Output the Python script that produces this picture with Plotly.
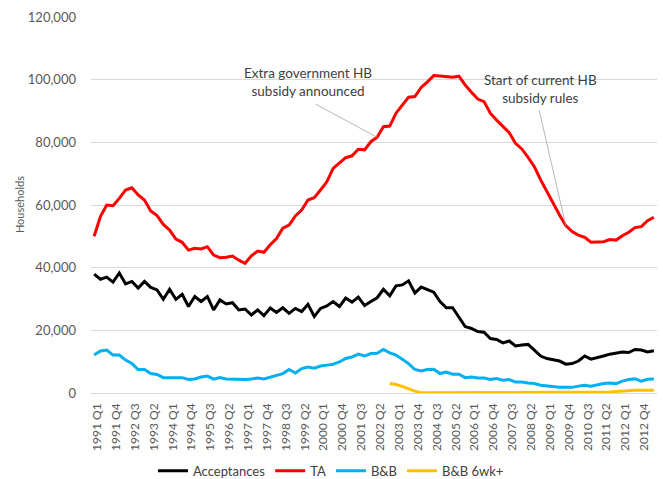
import plotly.graph_objects as go

years = list(range(1991, 2014))
quarters = [f"{y} Q{q}" for y in years for q in range(1, 5)][:90]  # 1991 Q1 .. 2013 Q2

acceptances = [37950, 36300, 37000, 35400, 38300, 34800, 35600, 33500, 35600, 33700,
               32900, 29900, 33100, 29900, 31500, 27600, 30800, 29200, 30800, 26500,
               29700, 28400, 28800, 26500, 26800, 24900, 26500, 24700, 27100, 25700,
               27200, 25400, 27000, 26000, 28300, 24400, 27000, 27800, 29200, 27600,
               30300, 29000, 30600, 27900, 29200, 30400, 33100, 31000, 34200, 34500,
               35800, 31900, 33800, 32900, 32200, 29200, 27200, 27200, 24200, 21200,
               20600, 19600, 19400, 17400, 17100, 16000, 16600, 15000, 15300, 15500,
               13700, 11800, 11000, 10500, 10200, 9200, 9400, 10200, 11800, 10800,
               11200, 11800, 12400, 12800, 13100, 12900, 13900, 13700, 13100, 13500]

ta = [50000, 56300, 60000, 59800, 62100, 64800, 65500, 63200, 61600, 58100,
      56600, 53800, 52000, 49100, 48100, 45600, 46200, 46000, 46700, 44000,
      43200, 43300, 43700, 42400, 41400, 43800, 45300, 44900, 47300, 49300,
      52600, 53600, 56500, 58400, 61600, 62300, 64800, 67400, 71700, 73300,
      75100, 75700, 77800, 77600, 80200, 81600, 85000, 85200, 89300, 91900,
      94400, 94600, 97500, 99300, 101300, 101200, 101100, 100800, 101100, 98300,
      96000, 93800, 93000, 89300, 87100, 85000, 83100, 79700, 77900, 75200,
      72200, 68000, 64200, 60200, 56800, 53400, 51500, 50400, 49700, 48100,
      48300, 48300, 49000, 48800, 50200, 51300, 52800, 53100, 55000, 56100]

bb = [12100, 13400, 13700, 12100, 12100, 10500, 9400, 7500, 7500, 6200,
      5900, 4900, 4900, 4900, 4900, 4300, 4500, 5100, 5400, 4400,
      4900, 4500, 4400, 4300, 4300, 4500, 4800, 4500, 5000, 5500,
      6200, 7500, 6400, 7800, 8300, 7900, 8600, 8900, 9200, 9900,
      11000, 11500, 12400, 11800, 12600, 12700, 13900, 12800, 12100, 10800,
      9400, 7500, 7000, 7500, 7600, 6200, 6700, 6000, 6000, 4900,
      5100, 4800, 4800, 4300, 4600, 4100, 4300, 3500, 3500, 3200,
      3000, 2500, 2200, 1900, 1800, 1800, 1800, 2200, 2500, 2200,
      2700, 3000, 3200, 3000, 3800, 4300, 4500, 3800, 4400, 4500]

bb6 = [None] * 47 + [3000, 2700, 2100, 1300, 600, 100,
                     100, 100, 100, 100, 100, 100, 100, 100, 100, 100,
                     100, 100, 100, 100, 100, 100, 100, 100, 100, 100,
                     100, 100, 100, 100, 100, 100, 100, 100,
                     150, 300, 500, 700, 850, 900, 900, 900, 900]

series_names = ["Acceptances", "TA", "B&B", "B&B 6wk+"]
series_colors = ["#000000", "#FF0000", "#00B0F0", "#FFC000"]
series_values = [acceptances, ta, bb, bb6]

tick_labels = quarters[::3]

FONT = "Lato, 'Open Sans', sans-serif"

fig = go.Figure()
for name, col, vals in zip(series_names, series_colors, series_values):
    fig.add_trace(go.Scatter(x=quarters, y=vals, mode="lines", name=name,
                             line=dict(color=col, width=3), connectgaps=False))

fig.update_layout(
    width=663, height=479,
    margin=dict(l=91, r=6, t=17, b=86, autoexpand=False),
    paper_bgcolor="white", plot_bgcolor="white",
    font=dict(family=FONT, color="#595959", size=12),
    showlegend=True,
    legend=dict(orientation="h", x=0.424, xanchor="center", y=-0.207, yanchor="middle",
                font=dict(size=13, color="#404040"), itemwidth=30,
                traceorder="normal", bgcolor="rgba(0,0,0,0)"),
    xaxis=dict(type="category", categoryorder="array", categoryarray=quarters,
               range=[-0.5, len(quarters) - 0.5], automargin=False,
               tickmode="array", tickvals=tick_labels, ticktext=tick_labels,
               tickangle=-90, tickfont=dict(size=12, color="#595959"),
               showgrid=False, showline=False, zeroline=False, ticks="",
               ticklabelstandoff=7, ticklabelshift=3),
    yaxis=dict(range=[0, 120000], dtick=20000, tickformat=",d", automargin=False,
               showgrid=True, gridcolor="#D9D9D9", gridwidth=1,
               zeroline=True, zerolinecolor="#D9D9D9", zerolinewidth=1,
               showline=False, ticks="", tickfont=dict(size=13, color="#595959"),
               ticklabelstandoff=14),
)

# y-axis title
fig.add_annotation(xref="paper", yref="paper", x=-0.127, y=0.5, text="Households",
                   textangle=-90, showarrow=False, font=dict(size=11, color="#595959"),
                   xanchor="center", yanchor="middle")

# callouts
fig.add_annotation(xref="x", yref="paper", x=quarters[34], y=(393 - 82) / 376,
                   text="Extra government HB<br>subsidy announced", showarrow=False,
                   font=dict(size=13.5, color="#404040"), xanchor="center", yanchor="middle")
fig.add_annotation(x=quarters[45], y=ta[45], ax=-63, ay=-34, text="", showarrow=True,
                   arrowhead=0, arrowwidth=0.8, arrowcolor="#A6A6A6")

fig.add_annotation(xref="x", yref="paper", x=quarters[71], y=(393 - 89) / 376,
                   text="Start of current HB<br>subsidy rules", showarrow=False,
                   font=dict(size=13.5, color="#404040"), xanchor="center", yanchor="middle")
fig.add_annotation(x=quarters[75], y=ta[75], ax=-27, ay=-117, text="", showarrow=True,
                   arrowhead=0, arrowwidth=0.8, arrowcolor="#A6A6A6")

fig.write_html("out.html", config={"displayModeBar": False},
               post_script="document.body.style.margin='0';document.body.style.overflow='hidden';")
